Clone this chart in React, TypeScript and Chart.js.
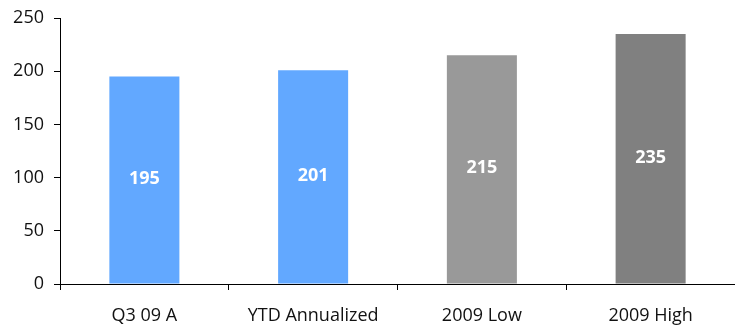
import React, { useEffect, useRef } from "react";
import { Chart, registerables } from "chart.js";

Chart.register(...registerables);

const categories = ["Q3 09 A", "YTD Annualized", "2009 Low", "2009 High"];
const values = [195, 201, 215, 235];
const barColors = ["#62A8FF", "#62A8FF", "#999999", "#808080"];
const yTicks = [0, 50, 100, 150, 200, 250];

const FONT = "'Open Sans', 'Noto Sans', sans-serif";

const valueLabels = {
  id: "valueLabels",
  afterDatasetsDraw(chart: any) {
    const ctx = chart.ctx;
    const meta = chart.getDatasetMeta(0);
    ctx.save();
    ctx.fillStyle = "#ffffff";
    ctx.font = `bold 18px ${FONT}`;
    ctx.textAlign = "center";
    ctx.textBaseline = "middle";
    meta.data.forEach((bar: any, i: number) => {
      const y = (bar.y + bar.base) / 2;
      ctx.fillText(String(values[i]), bar.x, y - 1);
    });
    ctx.restore();
  },
};

export default function App() {
  const ref = useRef<HTMLCanvasElement | null>(null);
  useEffect(() => {
    if (!ref.current) return;
    const chart = new Chart(ref.current, {
      type: "bar",
      data: {
        labels: categories,
        datasets: [
          {
            data: values,
            backgroundColor: barColors,
            borderWidth: 0,
            categoryPercentage: 1,
            barPercentage: 0.415,
          },
        ],
      },
      options: {
        animation: false,
        responsive: false,
        maintainAspectRatio: false,
        layout: { padding: { top: 18, right: 0, left: 0, bottom: 0 } },
        plugins: {
          legend: { display: false },
          tooltip: { enabled: false },
        },
        scales: {
          x: {
            grid: {
              offset: true,
              drawOnChartArea: false,
              drawTicks: true,
              tickLength: 6,
              color: "#000",
            },
            border: { display: true, color: "#000", width: 1 },
            ticks: {
              color: "#111",
              font: { family: FONT, size: 18 },
              padding: 15,
              maxRotation: 0,
            },
            afterFit: (s: any) => {
              s.height = 43;
              s.paddingLeft = 0;
              s.paddingRight = 0;
            },
          },
          y: {
            min: 0,
            max: 250,
            afterBuildTicks: (s: any) => {
              s.ticks = yTicks.map((v) => ({ value: v }));
            },
            grid: {
              drawOnChartArea: false,
              drawTicks: true,
              tickLength: 6,
              color: "#000",
            },
            border: { display: true, color: "#000", width: 1 },
            ticks: {
              color: "#111",
              font: { family: FONT, size: 18 },
              padding: 10,
            },
            afterFit: (s: any) => {
              s.width = 60;
              s.paddingTop = 0;
              s.paddingBottom = 0;
            },
          },
        },
      },
      plugins: [valueLabels],
    });
    return () => chart.destroy();
  }, []);
  return (
    <div style={{ position: "fixed", left: 0, top: 0, width: 735, height: 327, background: "#fff" }}>
      <canvas ref={ref} width={735} height={327} style={{ width: 735, height: 327 }} />
    </div>
  );
}
